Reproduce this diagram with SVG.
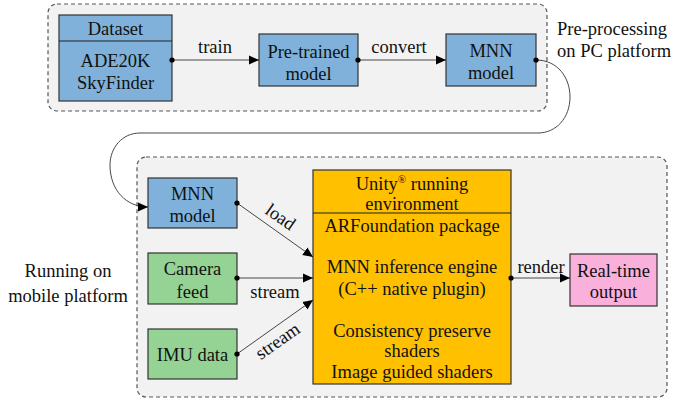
<svg xmlns="http://www.w3.org/2000/svg" width="676" height="402" viewBox="0 0 676 402">
<defs>
<marker id="arr" viewBox="0 0 10 10" refX="10" refY="5" markerWidth="10" markerHeight="10" markerUnits="userSpaceOnUse" orient="auto">
<path d="M0,0.5 L10,5 L0,9.5 z" fill="#000"/>
</marker>
<marker id="dot" viewBox="0 0 6 6" refX="3" refY="3" markerWidth="6" markerHeight="6" markerUnits="userSpaceOnUse">
<circle cx="3" cy="3" r="2.6" fill="#000"/>
</marker>
</defs>
<style>
text{font-family:'Liberation Serif','Times New Roman',serif;font-size:18.5px;fill:#111;text-anchor:middle}
.lab{text-anchor:start}
.cont{fill:#f2f2f2;stroke:#555;stroke-width:1.2;stroke-dasharray:4,3}
.box{stroke:#333;stroke-width:1.2}
.blue{fill:#7fb1da}
.green{fill:#94d394}
.orange{fill:#ffc000}
.pink{fill:#f9b0db}
.div{stroke:#222;stroke-width:1.2}
.edge{fill:none;stroke:#333;stroke-width:0.9;marker-start:url(#dot);marker-end:url(#arr)}
</style>
<g id="pc-platform">
<rect class="cont" x="48" y="4" width="499" height="107" rx="9"/>
<text class="lab" x="557" y="35">Pre-processing</text>
<text class="lab" x="557" y="57">on PC platform</text>
</g>
<g id="mobile-platform">
<rect class="cont" x="137" y="157" width="530" height="240" rx="9"/>
<text x="68" y="277">Running on</text>
<text x="68" y="302">mobile platform</text>
</g>
<g id="dataset">
<rect class="box blue" x="59" y="15" width="113" height="86"/>
<line class="div" x1="59" y1="41" x2="172" y2="41"/>
<text x="115.5" y="35">Dataset</text>
<text x="115.5" y="67">ADE20K</text>
<text x="115.5" y="89">SkyFinder</text>
</g>
<g id="pretrained">
<rect class="box blue" x="259" y="34" width="99" height="52"/>
<text x="308.5" y="58">Pre-trained</text>
<text x="308.5" y="80">model</text>
</g>
<g id="mnn-pc">
<rect class="box blue" x="446" y="34" width="90" height="52"/>
<text x="491" y="57">MNN</text>
<text x="491" y="79">model</text>
</g>
<g id="mnn-mobile">
<rect class="box blue" x="148" y="178" width="89" height="50"/>
<text x="192.5" y="200">MNN</text>
<text x="192.5" y="222">model</text>
</g>
<g id="camera">
<rect class="box green" x="148" y="253" width="89" height="51"/>
<text x="192.5" y="275">Camera</text>
<text x="192.5" y="298">feed</text>
</g>
<g id="imu">
<rect class="box green" x="148" y="329" width="89" height="50"/>
<text x="192.5" y="361">IMU data</text>
</g>
<g id="unity">
<rect class="box orange" x="313" y="170" width="198" height="214"/>
<line class="div" x1="313" y1="213" x2="511" y2="213"/>
<text x="412" y="190">Unity<tspan font-size="11" dy="-7">®</tspan><tspan dy="7"> running</tspan></text>
<text x="412" y="210">environment</text>
<text x="412" y="232">ARFoundation package</text>
<text x="412" y="273">MNN inference engine</text>
<text x="412" y="295">(C++ native plugin)</text>
<text x="412" y="337">Consistency preserve</text>
<text x="412" y="357">shaders</text>
<text x="412" y="378">Image guided shaders</text>
</g>
<g id="output">
<rect class="box pink" x="570" y="254" width="87" height="52"/>
<text x="613.5" y="277">Real-time</text>
<text x="613.5" y="298">output</text>
</g>
<g id="connectors">
<line class="edge" x1="172" y1="60" x2="259" y2="60"/>
<line class="edge" x1="358" y1="60" x2="446" y2="60"/>
<path class="edge" d="M536,60 C558,60 570,78 570,97 C570,118 556,133 538,133 L140,133 C122,133 110,148 110,165 C110,190 126,207 148,207"/>
<line class="edge" x1="237" y1="203" x2="313" y2="257"/>
<line class="edge" x1="237" y1="278" x2="313" y2="278"/>
<line class="edge" x1="237" y1="354" x2="313" y2="300"/>
<line class="edge" x1="511" y1="278" x2="570" y2="278"/>
<text x="215" y="53">train</text>
<text x="399" y="53">convert</text>
<text x="541" y="273">render</text>
<text x="275" y="298">stream</text>
<text transform="translate(277,222) rotate(35)">load</text>
<text transform="translate(281,346) rotate(-35)">stream</text>
</g>
</svg>
